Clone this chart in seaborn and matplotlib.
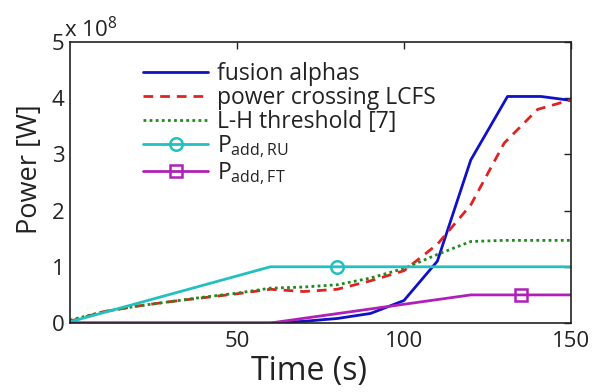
import matplotlib
matplotlib.use("Agg")
import matplotlib.pyplot as plt
import seaborn as sns
import numpy as np
import pandas as pd

# Data (power in units of 1e8 W, time in s)
t_alpha = [0, 10, 20, 30, 40, 50, 60, 70, 80, 90, 100, 110, 120, 131, 141, 150]
p_alpha = [0, 0, 0, 0, 0, 0, 0, 0.03, 0.08, 0.17, 0.40, 1.10, 2.90, 4.03, 4.03, 3.96]

t_lcfs = [0, 10, 20, 30, 40, 50, 60, 70, 80, 90, 100, 110, 120, 130, 140, 150]
p_lcfs = [0.03, 0.20, 0.30, 0.38, 0.45, 0.52, 0.60, 0.56, 0.60, 0.75, 0.93, 1.40, 2.10, 3.20, 3.80, 3.97]

t_lh = [0, 10, 20, 30, 40, 50, 60, 70, 80, 90, 100, 110, 120, 130, 140, 150]
p_lh = [0.05, 0.20, 0.30, 0.38, 0.46, 0.53, 0.62, 0.64, 0.68, 0.80, 0.97, 1.22, 1.45, 1.47, 1.47, 1.47]

t_ru = [0, 60, 80, 150]
p_ru = [0.02, 1.0, 1.0, 1.0]

t_ft = [0, 60, 120, 135, 150]
p_ft = [0, 0, 0.5, 0.5, 0.5]

labels = ["fusion alphas", "power crossing LCFS", "L-H threshold [7]",
          r"$\mathregular{P_{add,RU}}$", r"$\mathregular{P_{add,FT}}$"]
xticks = [50, 100, 150]
yticks = [0, 1, 2, 3, 4, 5]

sns.set_style("white")
plt.rcParams['font.family'] = ['Open Sans', 'DejaVu Sans']
plt.rcParams['mathtext.fontset'] = 'custom'
plt.rcParams['mathtext.rm'] = 'Open Sans'

fig = plt.figure(figsize=(6.02, 3.92), dpi=100)
ax = fig.add_axes([0.116, 0.176, 0.8325, 0.717])

lw = 2.0
sns.lineplot(x=t_alpha, y=p_alpha, ax=ax, color="#1010c8", lw=lw, label=labels[0])
sns.lineplot(x=t_lcfs, y=p_lcfs, ax=ax, color="#e02222", lw=lw, label=labels[1])
ax.lines[-1].set_linestyle((0, (3.5, 2.5)))
sns.lineplot(x=t_lh, y=p_lh, ax=ax, color="#1f8a1f", lw=lw, label=labels[2])
ax.lines[-1].set_linestyle((0, (1, 1.2)))
sns.lineplot(x=t_ru, y=p_ru, ax=ax, color="#22c0c0", lw=lw, label=labels[3],
             marker="o", markevery=[2], markersize=9, markerfacecolor="none",
             markeredgecolor="#22c0c0", markeredgewidth=1.8)
sns.lineplot(x=t_ft, y=p_ft, ax=ax, color="#b020b8", lw=lw, label=labels[4],
             marker="s", markevery=[3], markersize=9, markerfacecolor="none",
             markeredgecolor="#b020b8", markeredgewidth=1.8)

ax.set_xlim(0, 150)
ax.set_ylim(0, 5)
ax.set_xticks(xticks)
ax.set_xticklabels([str(v) for v in xticks])
ax.set_yticks(yticks)
ax.set_yticklabels([str(v) for v in yticks])
ax.tick_params(direction="in", length=5, width=1, top=True, right=True,
               labelsize=16, colors="#222222", pad=4)
ax.tick_params(axis="x", pad=6)
for s in ax.spines.values():
    s.set_color("#222222")
    s.set_linewidth(1.2)

ax.set_xlabel("Time (s)", fontsize=23, color="#222222", labelpad=2)
ax.xaxis.set_label_coords(0.478, -0.115)
ax.set_ylabel("Power [W]", fontsize=19.5, color="#222222")
ax.yaxis.set_label_coords(-0.052, 0.548)
ax.text(-0.012, 1.0, r"x 10$^{\mathregular{8}}$", transform=ax.transAxes,
        fontsize=16, color="#222222", ha="left", va="bottom")

leg = ax.legend(loc="upper left", bbox_to_anchor=(0.146, 0.93), frameon=False,
                fontsize=16.5, handlelength=2.85, handletextpad=0.36,
                labelspacing=0.0, borderaxespad=0, borderpad=0)
for txt in leg.get_texts():
    txt.set_color("#222222")

fig.savefig("out.png", dpi=100)
